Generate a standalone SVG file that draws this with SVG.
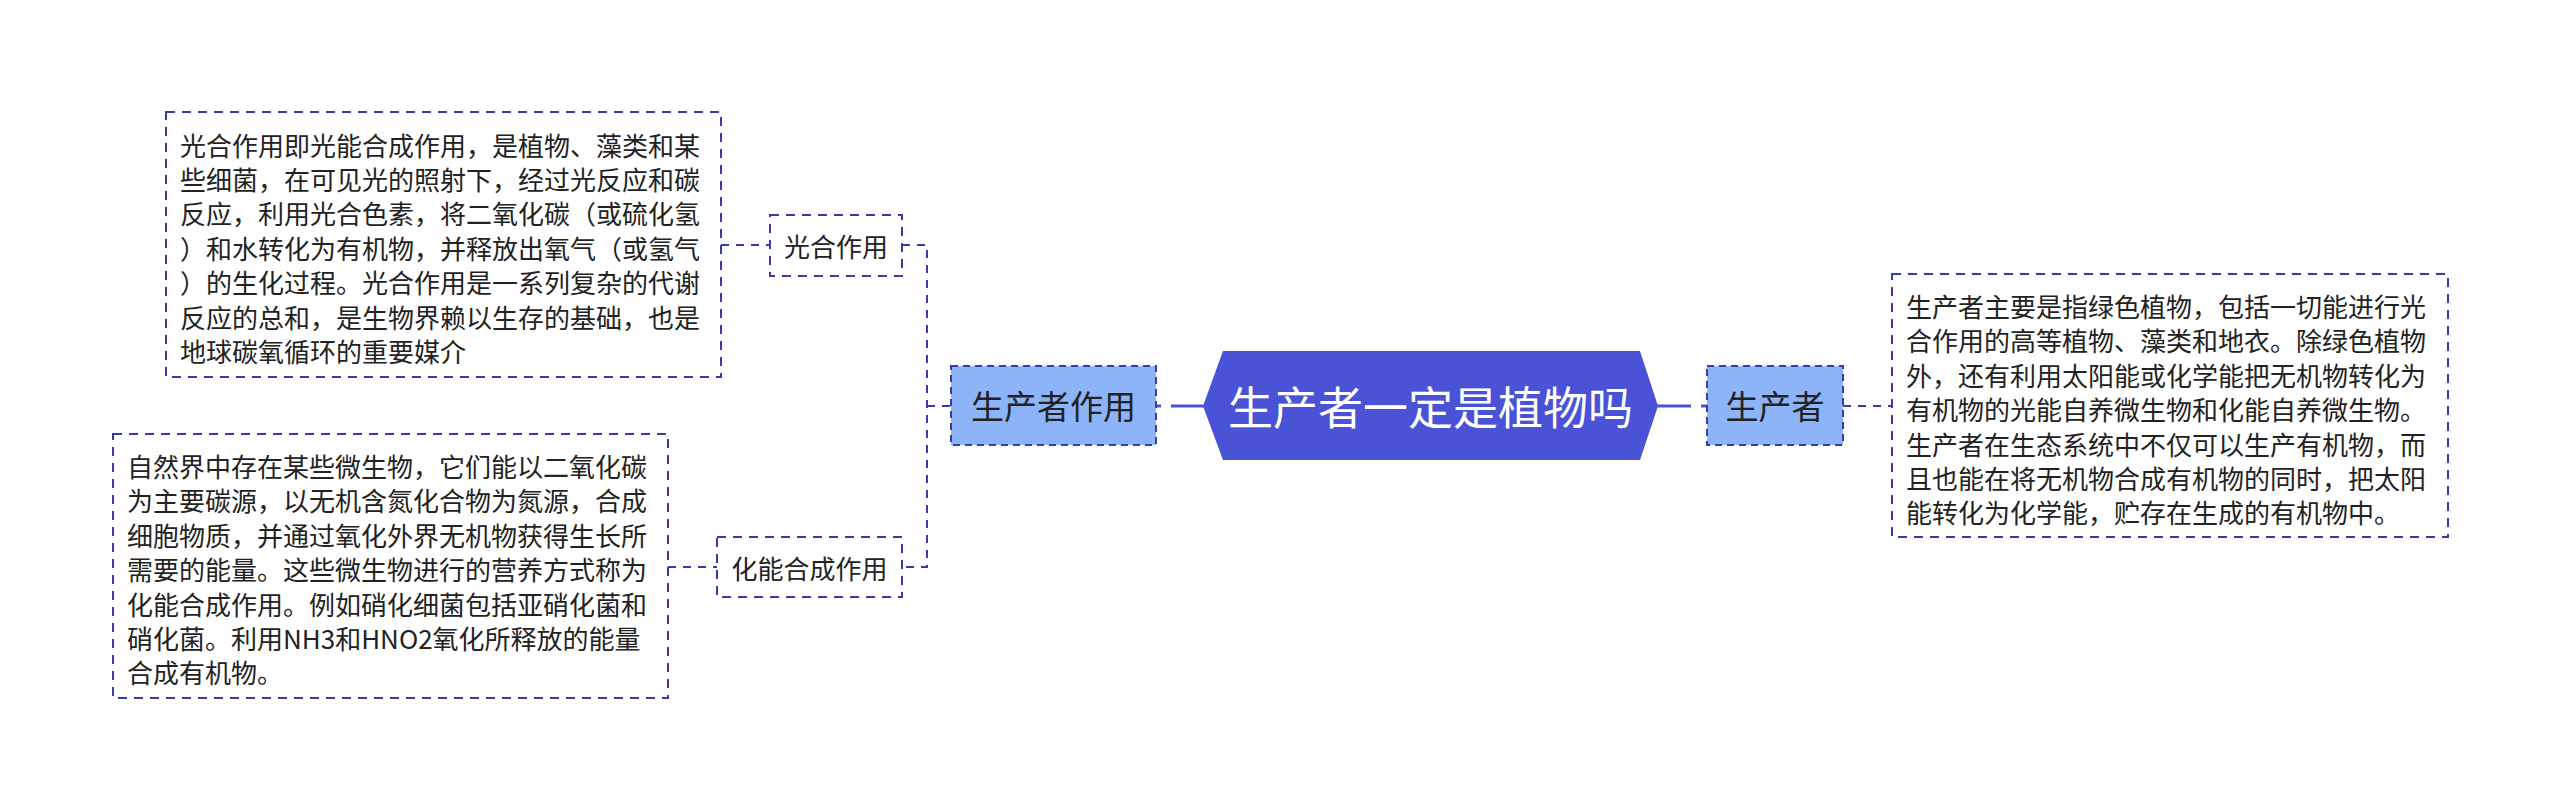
<svg xmlns="http://www.w3.org/2000/svg" width="2560" height="812" viewBox="0 0 2560 812">
<style>
text{font-family:"Noto Sans CJK SC","Noto Sans",sans-serif;fill:#222;dominant-baseline:central}
.big{font-size:26px}
.box{fill:#fff;stroke:#363cae;stroke-width:2;stroke-dasharray:9 7}
.sub{fill:#8db3f9;stroke:#363cae;stroke-width:2;stroke-dasharray:7 5}
.lbl{font-size:26px;text-anchor:middle}
.lbl2{font-size:33px;text-anchor:middle}
.dash{fill:none;stroke:#363cae;stroke-width:2;stroke-dasharray:8 7}
.solid{fill:none;stroke:#4a52d6;stroke-width:3}
</style>
<rect width="2560" height="812" fill="#fff"/>
<g id="connectors">
<path class="dash" d="M721,245 H770"/>
<path class="dash" d="M902,245 H927 V567 H902"/>
<path class="dash" d="M927,406 H951"/>
<path class="dash" d="M668,567 H717"/>
<path class="solid" d="M1156,406 H1161 M1171,406 H1204"/>
<path class="solid" d="M1657,406 H1691 M1701,406 H1707"/>
<path class="dash" d="M1843,406 H1892"/>
</g>
<g id="root">
<polygon points="1203,406 1223,351 1640,351 1658,406 1640,460 1223,460" fill="#4a52d6"/>
<text x="1430.5" y="405" style="font-size:45px;fill:#fff;text-anchor:middle">生产者一定是植物吗</text>
</g>
<g id="n-zuoyong">
<rect class="sub" x="951" y="366" width="205" height="79"/>
<text class="lbl2" x="1053.5" y="405">生产者作用</text>
</g>
<g id="n-shengchanzhe">
<rect class="sub" x="1707" y="366" width="136" height="79"/>
<text class="lbl2" x="1775" y="405">生产者</text>
</g>
<g id="n-guanghe">
<rect class="box" x="770" y="215" width="132" height="61"/>
<text class="lbl" x="836" y="245">光合作用</text>
</g>
<g id="n-huaneng">
<rect class="box" x="717" y="537" width="185" height="60"/>
<text class="lbl" x="809.5" y="567">化能合成作用</text>
</g>
<g id="n-guanghe-desc">
<rect class="box" x="166" y="112" width="555" height="265"/>
<text class="big" x="180">
<tspan x="180" y="143.5">光合作用即光能合成作用，是植物、藻类和某</tspan>
<tspan x="180" y="177.9">些细菌，在可见光的照射下，经过光反应和碳</tspan>
<tspan x="180" y="212.3">反应，利用光合色素，将二氧化碳（或硫化氢</tspan>
<tspan x="180" y="246.7">）和水转化为有机物，并释放出氧气（或氢气</tspan>
<tspan x="180" y="281.1">）的生化过程。光合作用是一系列复杂的代谢</tspan>
<tspan x="180" y="315.5">反应的总和，是生物界赖以生存的基础，也是</tspan>
<tspan x="180" y="349.9">地球碳氧循环的重要媒介</tspan>
</text>
</g>
<g id="n-huaneng-desc">
<rect class="box" x="113" y="434" width="555" height="264"/>
<text class="big" x="127">
<tspan x="127" y="465">自然界中存在某些微生物，它们能以二氧化碳</tspan>
<tspan x="127" y="499.4">为主要碳源，以无机含氮化合物为氮源，合成</tspan>
<tspan x="127" y="533.8">细胞物质，并通过氧化外界无机物获得生长所</tspan>
<tspan x="127" y="568.2">需要的能量。这些微生物进行的营养方式称为</tspan>
<tspan x="127" y="602.6">化能合成作用。例如硝化细菌包括亚硝化菌和</tspan>
<tspan x="127" y="637">硝化菌。利用NH3和HNO2氧化所释放的能量</tspan>
<tspan x="127" y="671.4">合成有机物。</tspan>
</text>
</g>
<g id="n-shengchanzhe-desc">
<rect class="box" x="1892" y="274" width="556" height="263"/>
<text class="big" x="1906">
<tspan x="1906" y="305">生产者主要是指绿色植物，包括一切能进行光</tspan>
<tspan x="1906" y="339.4">合作用的高等植物、藻类和地衣。除绿色植物</tspan>
<tspan x="1906" y="373.8">外，还有利用太阳能或化学能把无机物转化为</tspan>
<tspan x="1906" y="408.2">有机物的光能自养微生物和化能自养微生物。</tspan>
<tspan x="1906" y="442.6">生产者在生态系统中不仅可以生产有机物，而</tspan>
<tspan x="1906" y="477">且也能在将无机物合成有机物的同时，把太阳</tspan>
<tspan x="1906" y="511.4">能转化为化学能，贮存在生成的有机物中。</tspan>
</text>
</g>
</svg>
